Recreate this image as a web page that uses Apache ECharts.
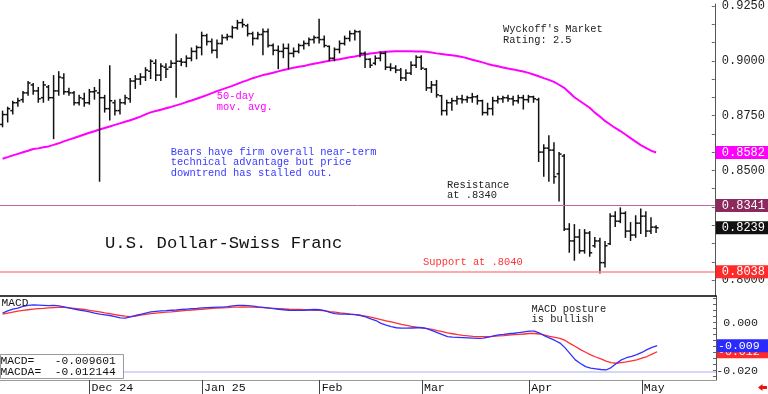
<!DOCTYPE html>
<html><head><meta charset="utf-8">
<script src="https://cdn.jsdelivr.net/npm/echarts@6/dist/echarts.min.js"></script>
<style>html,body{margin:0;padding:0;background:#fff}#c{width:768px;height:394px}</style>
</head><body><div id="c"></div>
<script>
const dates = [
'2024-11-07','2024-11-08','2024-11-11','2024-11-12','2024-11-13','2024-11-14','2024-11-15','2024-11-18','2024-11-19','2024-11-20','2024-11-21','2024-11-22','2024-11-25','2024-11-26','2024-11-27','2024-11-28','2024-11-29',
'2024-12-02','2024-12-03','2024-12-04','2024-12-05','2024-12-06','2024-12-09','2024-12-10','2024-12-11','2024-12-12','2024-12-13','2024-12-16','2024-12-17','2024-12-18','2024-12-19','2024-12-20','2024-12-23','2024-12-24','2024-12-25','2024-12-26','2024-12-27','2024-12-30','2024-12-31',
'2025-01-01','2025-01-02','2025-01-03','2025-01-06','2025-01-07','2025-01-08','2025-01-09','2025-01-10','2025-01-13','2025-01-14','2025-01-15','2025-01-16','2025-01-17','2025-01-20','2025-01-21','2025-01-22','2025-01-23','2025-01-24','2025-01-27','2025-01-28','2025-01-29','2025-01-30','2025-01-31',
'2025-02-03','2025-02-04','2025-02-05','2025-02-06','2025-02-07','2025-02-10','2025-02-11','2025-02-12','2025-02-13','2025-02-14','2025-02-17','2025-02-18','2025-02-19','2025-02-20','2025-02-21','2025-02-24','2025-02-25','2025-02-26','2025-02-27','2025-02-28',
'2025-03-03','2025-03-04','2025-03-05','2025-03-06','2025-03-07','2025-03-10','2025-03-11','2025-03-12','2025-03-13','2025-03-14','2025-03-17','2025-03-18','2025-03-19','2025-03-20','2025-03-21','2025-03-24','2025-03-25','2025-03-26','2025-03-27','2025-03-28','2025-03-31',
'2025-04-01','2025-04-02','2025-04-03','2025-04-04','2025-04-07','2025-04-08','2025-04-09','2025-04-10','2025-04-11','2025-04-14','2025-04-15','2025-04-16','2025-04-17','2025-04-18','2025-04-21','2025-04-22','2025-04-23','2025-04-24','2025-04-25','2025-04-28','2025-04-29','2025-04-30',
'2025-05-01','2025-05-02','2025-05-05','2025-05-06'];

const open = [
0.8710,0.8755,0.8773,0.8809,0.8823,0.8854,0.8890,0.8863,0.8832,0.8881,
0.8832,0.8863,0.8922,0.8859,0.8854,0.8809,0.8827,0.8809,0.8859,0.8854,
0.8832,0.8782,0.8809,0.8773,0.8809,0.8827,0.8908,0.8917,0.8926,0.8953,
0.8989,0.8935,0.8971,0.8971,0.8989,0.8998,0.8994,0.9012,0.9043,0.9061,
0.9115,0.9088,0.9048,0.9079,0.9106,0.9111,0.9151,0.9174,0.9160,0.9124,
0.9102,0.9120,0.9133,0.9070,0.9048,0.9043,0.9057,0.9034,0.9043,0.9070,
0.9079,0.9097,0.9106,0.9097,0.9066,0.9012,0.9052,0.9079,0.9102,0.9124,
0.9133,0.9034,0.9007,0.8989,0.9012,0.9034,0.8971,0.8967,0.8958,0.8922,
0.8944,0.8980,0.9016,0.8962,0.8877,0.8890,0.8841,0.8773,0.8809,0.8818,
0.8827,0.8823,0.8832,0.8836,0.8818,0.8764,0.8782,0.8818,0.8827,0.8832,
0.8827,0.8818,0.8832,0.8823,0.8836,0.8823,0.8584,0.8602,0.8593,0.8485,
0.8566,0.8233,0.8179,0.8197,0.8134,0.8215,0.8157,0.8179,0.8080,0.8166,
0.8292,0.8269,0.8305,0.8224,0.8206,0.8260,0.8292,0.8224,0.8242];
const high = [
0.8773,0.8791,0.8818,0.8832,0.8863,0.8908,0.8899,0.8881,0.8908,0.8890,
0.8935,0.8953,0.8944,0.8877,0.8863,0.8845,0.8854,0.8872,0.8881,0.8917,
0.8845,0.8980,0.8823,0.8827,0.8845,0.8922,0.8935,0.8944,0.8971,0.9007,
0.9007,0.8989,0.8989,0.9003,0.9124,0.9012,0.9025,0.9061,0.9070,0.9133,
0.9124,0.9102,0.9097,0.9120,0.9124,0.9160,0.9187,0.9192,0.9169,0.9133,
0.9133,0.9147,0.9147,0.9079,0.9070,0.9079,0.9079,0.9061,0.9079,0.9093,
0.9106,0.9115,0.9192,0.9115,0.9070,0.9061,0.9093,0.9115,0.9138,0.9142,
0.9138,0.9043,0.9012,0.9025,0.9043,0.9043,0.8989,0.8980,0.8967,0.8962,
0.8998,0.9025,0.9025,0.8967,0.8908,0.8913,0.8845,0.8823,0.8832,0.8841,
0.8845,0.8841,0.8854,0.8845,0.8823,0.8809,0.8836,0.8841,0.8841,0.8845,
0.8841,0.8845,0.8845,0.8845,0.8841,0.8832,0.8620,0.8661,0.8629,0.8584,
0.8575,0.8260,0.8256,0.8233,0.8233,0.8224,0.8197,0.8193,0.8179,0.8305,
0.8314,0.8332,0.8314,0.8265,0.8296,0.8327,0.8314,0.8287,0.8251];
const low = [
0.8697,0.8719,0.8755,0.8791,0.8809,0.8841,0.8845,0.8809,0.8809,0.8818,
0.8643,0.8841,0.8845,0.8841,0.8796,0.8796,0.8791,0.8800,0.8823,0.8449,
0.8764,0.8728,0.8751,0.8755,0.8800,0.8809,0.8872,0.8890,0.8908,0.8917,
0.8908,0.8908,0.8922,0.8967,0.8832,0.8976,0.8971,0.8998,0.9007,0.9025,
0.9070,0.9034,0.9012,0.9075,0.9093,0.9102,0.9142,0.9151,0.9111,0.9070,
0.9097,0.9025,0.9061,0.9025,0.8962,0.9012,0.8962,0.9016,0.9034,0.9052,
0.9066,0.9079,0.9079,0.9061,0.8998,0.8998,0.9034,0.9070,0.9088,0.9093,
0.9016,0.8967,0.8967,0.8980,0.8998,0.8958,0.8953,0.8944,0.8908,0.8908,
0.8935,0.8967,0.8958,0.8863,0.8854,0.8832,0.8751,0.8751,0.8773,0.8800,
0.8805,0.8809,0.8809,0.8800,0.8751,0.8751,0.8751,0.8805,0.8809,0.8814,
0.8796,0.8805,0.8778,0.8809,0.8809,0.8539,0.8472,0.8449,0.8440,0.8359,
0.8224,0.8125,0.8089,0.8121,0.8121,0.8107,0.8148,0.8031,0.8058,0.8161,
0.8242,0.8260,0.8193,0.8179,0.8193,0.8211,0.8197,0.8211,0.8215];
const close = [
0.8755,0.8782,0.8809,0.8818,0.8854,0.8899,0.8863,0.8827,0.8890,0.8832,
0.8863,0.8926,0.8859,0.8854,0.8809,0.8832,0.8809,0.8859,0.8863,0.8832,
0.8782,0.8818,0.8773,0.8809,0.8832,0.8908,0.8917,0.8926,0.8958,0.8998,
0.8935,0.8976,0.8962,0.8989,0.8998,0.8994,0.9012,0.9043,0.9061,0.9115,
0.9088,0.9048,0.9079,0.9106,0.9111,0.9151,0.9174,0.9165,0.9124,0.9102,
0.9120,0.9133,0.9070,0.9048,0.9043,0.9057,0.9034,0.9043,0.9070,0.9079,
0.9097,0.9106,0.9097,0.9070,0.9012,0.9052,0.9079,0.9102,0.9124,0.9133,
0.9034,0.9007,0.8980,0.9012,0.9034,0.8971,0.8967,0.8958,0.8922,0.8944,
0.8980,0.9016,0.8967,0.8877,0.8890,0.8845,0.8773,0.8809,0.8818,0.8827,
0.8823,0.8832,0.8836,0.8818,0.8764,0.8782,0.8818,0.8827,0.8832,0.8827,
0.8818,0.8832,0.8823,0.8836,0.8827,0.8584,0.8602,0.8593,0.8472,0.8575,
0.8233,0.8179,0.8197,0.8134,0.8215,0.8125,0.8179,0.8080,0.8157,0.8292,
0.8269,0.8305,0.8224,0.8206,0.8260,0.8292,0.8224,0.8242,0.8239];
const ma50 = [
0.8554,0.8561,0.8569,0.8576,0.8583,0.8590,0.8598,0.8601,0.8606,0.8610,
0.8617,0.8624,0.8633,0.8641,0.8648,0.8656,0.8664,0.8672,0.8679,0.8687,
0.8694,0.8701,0.8708,0.8715,0.8722,0.8729,0.8737,0.8746,0.8756,0.8765,
0.8771,0.8777,0.8784,0.8790,0.8797,0.8804,0.8812,0.8819,0.8827,0.8835,
0.8844,0.8853,0.8862,0.8870,0.8878,0.8886,0.8895,0.8904,0.8912,0.8921,
0.8928,0.8935,0.8940,0.8946,0.8952,0.8958,0.8963,0.8969,0.8973,0.8976,
0.8982,0.8987,0.8991,0.8996,0.9000,0.9004,0.9007,0.9012,0.9016,0.9020,
0.9025,0.9029,0.9033,0.9036,0.9039,0.9041,0.9043,0.9044,0.9044,0.9044,
0.9044,0.9043,0.9043,0.9041,0.9038,0.9034,0.9031,0.9028,0.9025,0.9022,
0.9018,0.9012,0.9005,0.8999,0.8993,0.8986,0.8980,0.8975,0.8970,0.8965,
0.8961,0.8956,0.8951,0.8945,0.8938,0.8930,0.8921,0.8913,0.8904,0.8891,
0.8877,0.8856,0.8834,0.8818,0.8802,0.8786,0.8764,0.8746,0.8726,0.8710,
0.8694,0.8680,0.8664,0.8648,0.8632,0.8616,0.8603,0.8591,0.8582];
const macd = [
0.0040,0.0049,0.0057,0.0061,0.0068,0.0072,0.0074,0.0073,0.0072,0.0071,
0.0072,0.0070,0.0066,0.0062,0.0057,0.0053,0.0049,0.0045,0.0040,0.0036,
0.0033,0.0030,0.0025,0.0020,0.0019,0.0024,0.0030,0.0035,0.0040,0.0045,
0.0047,0.0049,0.0050,0.0052,0.0053,0.0055,0.0057,0.0059,0.0060,0.0062,
0.0063,0.0064,0.0065,0.0065,0.0067,0.0070,0.0072,0.0072,0.0071,0.0069,
0.0066,0.0064,0.0062,0.0059,0.0056,0.0054,0.0052,0.0051,0.0051,0.0052,
0.0054,0.0055,0.0054,0.0050,0.0043,0.0038,0.0036,0.0036,0.0035,0.0034,
0.0030,0.0024,0.0016,0.0009,-0.0003,-0.0010,-0.0016,-0.0021,-0.0023,-0.0023,
-0.0022,-0.0021,-0.0021,-0.0025,-0.0033,-0.0041,-0.0050,-0.0058,-0.0060,-0.0061,
-0.0062,-0.0063,-0.0064,-0.0065,-0.0064,-0.0060,-0.0055,-0.0051,-0.0049,-0.0046,
-0.0044,-0.0041,-0.0038,-0.0035,-0.0035,-0.0043,-0.0055,-0.0064,-0.0074,-0.0085,
-0.0105,-0.0130,-0.0155,-0.0170,-0.0183,-0.0189,-0.0192,-0.0195,-0.0197,-0.0187,
-0.0170,-0.0155,-0.0146,-0.0140,-0.0133,-0.0124,-0.0112,-0.0103,-0.0096];
const macdSignal = [
0.0036,0.0040,0.0044,0.0048,0.0051,0.0054,0.0057,0.0059,0.0060,0.0062,
0.0063,0.0064,0.0064,0.0062,0.0060,0.0058,0.0055,0.0051,0.0048,0.0045,
0.0041,0.0038,0.0034,0.0030,0.0027,0.0025,0.0028,0.0032,0.0035,0.0038,
0.0040,0.0042,0.0044,0.0045,0.0047,0.0049,0.0051,0.0053,0.0055,0.0056,
0.0058,0.0060,0.0061,0.0062,0.0063,0.0065,0.0065,0.0066,0.0065,0.0065,
0.0064,0.0063,0.0061,0.0060,0.0059,0.0058,0.0056,0.0055,0.0055,0.0054,
0.0053,0.0052,0.0051,0.0049,0.0046,0.0044,0.0041,0.0039,0.0036,0.0034,
0.0031,0.0027,0.0023,0.0018,0.0013,0.0008,0.0003,-0.0002,-0.0007,-0.0011,
-0.0015,-0.0018,-0.0021,-0.0025,-0.0028,-0.0033,-0.0037,-0.0042,-0.0046,-0.0050,
-0.0053,-0.0055,-0.0057,-0.0058,-0.0058,-0.0058,-0.0057,-0.0055,-0.0054,-0.0052,
-0.0050,-0.0049,-0.0047,-0.0045,-0.0045,-0.0047,-0.0052,-0.0057,-0.0061,-0.0065,
-0.0074,-0.0087,-0.0099,-0.0112,-0.0123,-0.0134,-0.0143,-0.0151,-0.0160,-0.0166,
-0.0169,-0.0166,-0.0163,-0.0159,-0.0155,-0.0148,-0.0141,-0.0131,-0.0121];

const priceTickLabels = [0.8000, 0.8500, 0.8750, 0.9000, 0.9250];
const priceMinorTicks = [0.7917,0.8000,0.8083,0.8167,0.8250,0.8333,0.8417,0.8500,0.8583,0.8667,0.8750,0.8833,0.8917,0.9000,0.9083,0.9167,0.9250];
const macdTickLabels = [0.000, -0.020];
const macdMinorTicks = [-0.0225,-0.020,-0.0175,-0.015,-0.0125,-0.010,-0.0075,-0.005,-0.0025,0,0.0025,0.005,0.0075,0.010];
const monthLabels = {'2024-12':'Dec 24','2025-01':'Jan 25','2025-02':'Feb','2025-03':'Mar','2025-04':'Apr','2025-05':'May'};
const resistance = 0.8341, support = 0.8038;
const maLast = 0.8582, lastClose = 0.8239;
const macdLast = -0.009601, macdaLast = -0.012144;
const macdFloorLine = -0.0204;
const blankSlots = 11;

const axisData = dates.concat(new Array(blankSlots).fill(''));
const monthStart = new Set();
dates.forEach((d, i) => { if (i > 0 && d.slice(0,7) !== dates[i-1].slice(0,7) && monthLabels[d.slice(0,7)]) monthStart.add(i); });
const ohlc = dates.map((d, i) => [i, open[i], high[i], low[i], close[i]]);

const MONO = '"Liberation Mono", "DejaVu Sans Mono", monospace';

function renderOHLC(params, api) {
  const i = api.value(0);
  const po = api.coord([i, api.value(1)]);
  const x = po[0];
  const yh = api.coord([i, api.value(2)])[1];
  const yl = api.coord([i, api.value(3)])[1];
  const yc = api.coord([i, api.value(4)])[1];
  const st = {stroke: '#111', lineWidth: 1.5};
  return {type: 'group', children: [
    {type: 'line', shape: {x1: x, y1: yh, x2: x, y2: yl}, style: st},
    {type: 'line', shape: {x1: x - 2.5, y1: po[1], x2: x, y2: po[1]}, style: st},
    {type: 'line', shape: {x1: x, y1: yc, x2: x + 2.5, y2: yc}, style: st}
  ]};
}

const rightLabel = (bg, fmt, pad, size) => ({
  show: true, position: 'end', distance: 1, color: '#fff', backgroundColor: bg,
  fontFamily: MONO, fontSize: size || 12, padding: pad || [1, 3, 0, 6], formatter: fmt
});
const f4 = p => Number(p.value).toFixed(4);
const f3t = p => (Math.trunc(Number(p.value) * 1000) / 1000).toFixed(3);
const hidden = {color: 'rgba(0,0,0,0)', width: 0};

const chart = echarts.init(document.getElementById('c'), null, {renderer: 'canvas'});
chart.setOption({
  animation: false,
  backgroundColor: '#fff',
  grid: [
    {left: 0, right: 52, top: 0, height: 296},
    {left: 0, right: 52, top: 296, height: 84}
  ],
  xAxis: [
    {type: 'category', gridIndex: 0, data: axisData, show: false},
    {type: 'category', gridIndex: 1, data: axisData, position: 'bottom',
     axisLine: {show: true, onZero: false, lineStyle: {color: '#999', width: 1}},
     axisTick: {show: true, alignWithLabel: true, length: 14, interval: (idx) => monthStart.has(idx), lineStyle: {color: '#444'}},
     axisLabel: {show: true, interval: (idx) => monthStart.has(idx), formatter: (v) => monthLabels[(v || '').slice(0,7)] || '',
       align: 'left', padding: [0, 0, 0, 2], margin: 2, fontFamily: MONO, fontSize: 11.6, color: '#111'},
     splitLine: {show: false}},
    {type: 'category', gridIndex: 1, data: axisData, position: 'top',
     axisLine: {show: true, onZero: false, lineStyle: {color: '#000', width: 1.5}},
     axisTick: {show: false}, axisLabel: {show: false}, splitLine: {show: false}}
  ],
  yAxis: [
    {type: 'value', gridIndex: 0, position: 'right', min: 0.7928, max: 0.9259, scale: true,
     axisLine: {show: true, lineStyle: {color: '#555'}},
     axisTick: {show: true, inside: true, length: 3, customValues: priceMinorTicks, lineStyle: {color: '#666'}},
     axisLabel: {show: true, customValues: priceTickLabels, formatter: v => v.toFixed(4), margin: 7,
       fontFamily: MONO, fontSize: 12, color: '#222'},
     splitLine: {show: false}},
    {type: 'value', gridIndex: 1, position: 'right', min: -0.02388, max: 0.01113,
     axisLine: {show: true, lineStyle: {color: '#555'}},
     axisTick: {show: true, inside: true, length: 3, customValues: macdMinorTicks, lineStyle: {color: '#666'}},
     axisLabel: {show: true, customValues: macdTickLabels, formatter: v => v.toFixed(3), align: 'right', margin: 42,
       fontFamily: MONO, fontSize: 11.6, color: '#222'},
     splitLine: {show: false}}
  ],
  series: [
    {type: 'custom', name: 'USDCHF', xAxisIndex: 0, yAxisIndex: 0, data: ohlc, renderItem: renderOHLC,
     encode: {x: 0, y: [1, 2, 3, 4]}, clip: true, z: 3},
    {type: 'line', name: '50-day MA', xAxisIndex: 0, yAxisIndex: 0, data: ma50, symbol: 'none',
     lineStyle: {color: '#ff00ff', width: 2}, z: 2,
     markLine: {silent: true, symbol: ['none', 'none'], animation: false, precision: 6,
       data: [
         {yAxis: resistance, lineStyle: {color: '#c0689a', width: 1, type: 'solid'}, label: rightLabel('#8c2a5e', f4)},
         {yAxis: support, lineStyle: {color: '#ff8c8c', width: 1.5, type: 'solid'}, label: rightLabel('#ff2a2a', f4)},
         {yAxis: maLast, lineStyle: hidden, label: rightLabel('#ff00ff', f4)},
         {yAxis: lastClose, lineStyle: hidden, label: rightLabel('#111111', f4)}
       ]}},
    {type: 'line', name: 'MACDA', xAxisIndex: 1, yAxisIndex: 1, data: macdSignal, symbol: 'none',
     lineStyle: {color: '#ff3030', width: 1.3}, z: 2,
     markLine: {silent: true, symbol: ['none', 'none'], animation: false, precision: 6,
       data: [{yAxis: macdaLast, lineStyle: hidden, label: rightLabel('#ff2a2a', f3t, [1, 10, 0, 1], 11.6)}]}},
    {type: 'line', name: 'MACD', xAxisIndex: 1, yAxisIndex: 1, data: macd, symbol: 'none',
     lineStyle: {color: '#3030ff', width: 1.3}, z: 3,
     markLine: {silent: true, symbol: ['none', 'none'], animation: false, precision: 6,
       data: [
         {yAxis: macdFloorLine, lineStyle: {color: '#d6d6fb', width: 2, type: 'solid'}, label: {show: false}},
         {yAxis: macdLast, lineStyle: hidden, label: rightLabel('#2a2aff', f3t, [1, 10, 0, 1], 11.6)}
       ]}}
  ],
  graphic: [
    {type: 'text', left: 216.7, top: 91.5, z: 50, style: {text: '50-day\nmov. avg.', fill: '#ff00ff', fontFamily: MONO, fontSize: 10.4, lineHeight: 10.4}},
    {type: 'text', left: 170.7, top: 147.1, z: 50, style: {text: 'Bears have firm overall near-term\ntechnical advantage but price\ndowntrend has stalled out.', fill: '#3a3aff', fontFamily: MONO, fontSize: 10.4, lineHeight: 10.4}},
    {type: 'text', left: 503, top: 23.8, z: 50, style: {text: "Wyckoff's Market\nRating: 2.5", fill: '#222', fontFamily: MONO, fontSize: 10.4, lineHeight: 10.7}},
    {type: 'text', left: 447, top: 179.6, z: 50, style: {text: 'Resistance\nat .8340', fill: '#222', fontFamily: MONO, fontSize: 10.4, lineHeight: 10.6}},
    {type: 'text', left: 423, top: 256.8, z: 50, style: {text: 'Support at .8040', fill: '#ff3333', fontFamily: MONO, fontSize: 10.4, lineHeight: 10.4}},
    {type: 'text', left: 105, top: 234, z: 50, style: {text: 'U.S. Dollar-Swiss Franc', fill: '#111', fontFamily: MONO, fontSize: 17.2, lineHeight: 18}},
    {type: 'text', left: 531.5, top: 303.8, z: 50, style: {text: 'MACD posture\nis bullish', fill: '#222', fontFamily: MONO, fontSize: 10.4, lineHeight: 10.4}},
    {type: 'text', left: 1.5, top: 297.5, z: 50, style: {text: 'MACD', fill: '#111', fontFamily: MONO, fontSize: 11.2, lineHeight: 11.6}},
    {type: 'rect', left: 0, top: 354, z: 60, shape: {width: 123, height: 24}, style: {fill: '#fff', stroke: '#9a9a9a', lineWidth: 1}},
    {type: 'text', left: 0.5, top: 355.2, z: 61, style: {
      text: 'MACD=   ' + macdLast.toFixed(6) + '\nMACDA=  ' + macdaLast.toFixed(6),
      fill: '#111', fontFamily: MONO, fontSize: 11.3, lineHeight: 11}},
    {type: 'polygon', z: 60, shape: {points: [[758, 387.5], [762.5, 384], [762.5, 386], [767, 386], [767, 389], [762.5, 389], [762.5, 391]]}, style: {fill: '#ee1111'}}
  ]
});
</script>
</body></html>
